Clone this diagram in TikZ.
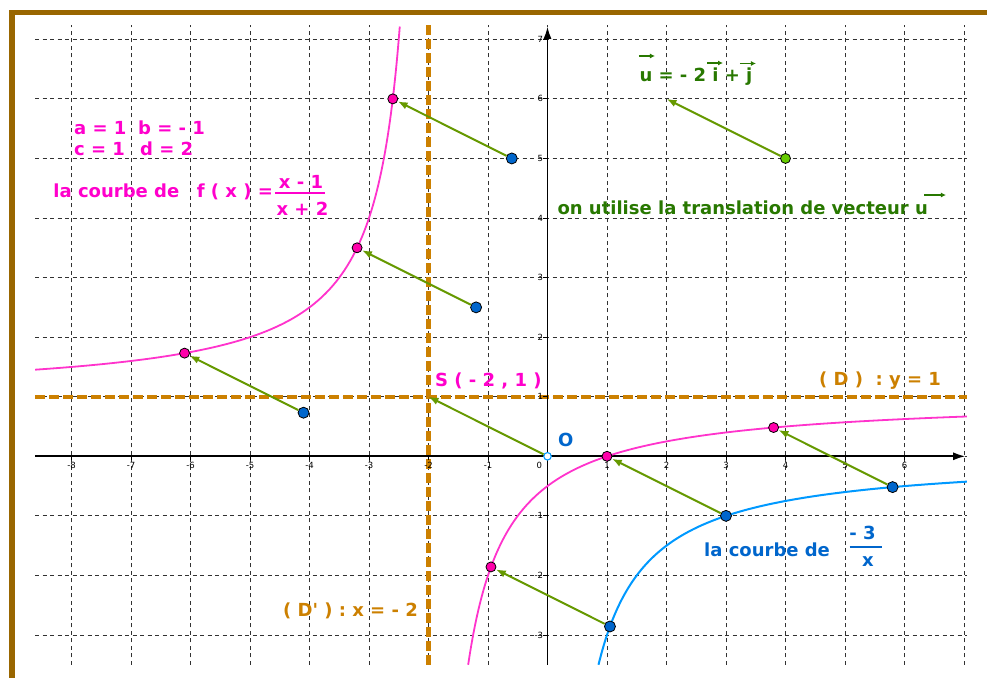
\documentclass[tikz,border=0pt]{standalone}
\usepackage{fontspec}
\setmainfont{DejaVu Sans}
\usetikzlibrary{arrows.meta}
\definecolor{frameC}{RGB}{153,102,0}
\definecolor{brownC}{RGB}{204,128,0}
\definecolor{pinkT}{RGB}{255,0,204}
\definecolor{pinkC}{RGB}{255,51,204}
\definecolor{pinkP}{RGB}{255,0,170}
\definecolor{blueC}{RGB}{0,153,255}
\definecolor{blueT}{RGB}{0,102,204}
\definecolor{blueP}{RGB}{0,102,204}
\definecolor{greenA}{RGB}{102,153,0}
\definecolor{greenT}{RGB}{40,120,0}
\definecolor{greenP}{RGB}{102,204,0}
\definecolor{gridC}{RGB}{50,50,50}
\begin{document}
\begin{tikzpicture}[x=59.5pt,y=59.57pt,
  gridline/.style={gridC, line width=0.9pt, dash pattern=on 4pt off 3.5pt},
  asym/.style={brownC, line width=4.2pt, dash pattern=on 10pt off 4pt},
  vecarrow/.style={greenA, line width=2pt, -{Latex[length=10pt,width=7.5pt]}},
  ovec/.style={greenT, line width=1.3pt, -{Latex[length=5pt,width=5pt]}},
  axisline/.style={black, line width=1.6pt, -{Latex[length=12pt,width=8pt]}},
  txt/.style={font=\fontsize{18}{20}\selectfont\bfseries, inner sep=0pt, anchor=base west},
  ticklbl/.style={font=\fontsize{8.5}{10}\selectfont, text=black, inner sep=0pt},
  dot/.style={circle, draw=black, line width=0.8pt, minimum size=10pt, inner sep=0pt},
]
\useasboundingbox (-9.2017,-3.7217) rectangle (7.3866,7.6599);
\fill[white] (-9.2017,-3.7217) rectangle (7.3866,7.6599);

% frame
\draw[frameC, line width=5.5pt] (-9.0,-3.9) -- (-9.0,7.45) -- (7.5,7.45);

% grid
\foreach \x in {-8,...,7} \draw[gridline] (\x,-3.503) -- (\x,7.24);
\foreach \y in {-3,...,7} \draw[gridline] (-8.61,\y) -- (7.05,\y);

% asymptotes
\draw[asym] (-8.61,1) -- (7.05,1);
\draw[asym] (-2,-3.503) -- (-2,7.24);

% axes
\coordinate (xs) at (-8.61,0);
\coordinate (xe) at (7.02,0);
\coordinate (ys) at (0,-3.503);
\coordinate (ye) at (0,7.21);
\draw[axisline] (xs) -- (xe);
\draw[axisline] (ys) -- (ye);

% ticks and labels
\foreach \x in {-8,...,-1,1,2,...,6} {
  \draw[line width=0.8pt] (\x,0) -- ++(0,-4pt);
  \node[ticklbl] (xl\x) at (\x,-0.155) {\x};
}
\foreach \y in {-3,-2,-1,1,2,...,7} {
  \draw[line width=0.8pt] (0,\y) -- ++(-4pt,0);
  \node[ticklbl, anchor=east] (yl\y) at (-0.07,\y) {\y};
}
\node[ticklbl] (zl) at (-0.138,-0.146) {0};

% curves
\draw[pinkC, line width=1.8pt, samples=300, domain=-8.61:-2.4808] plot (\x,{(\x-1)/(\x+2)});
\draw[pinkC, line width=1.8pt, samples=300, domain=-1.3333:7.05] plot (\x,{(\x-1)/(\x+2)});
\draw[blueC, line width=2pt, samples=300, domain=0.8571:7.05] plot (\x,{-3/\x});

% points
\node[dot, fill=blueP, minimum size=11pt] (b1) at (-0.6,5) {};
\node[dot, fill=blueP, minimum size=11pt] (b2) at (-1.2,2.5) {};
\node[dot, fill=blueP, minimum size=11pt] (b3) at (-4.1,0.7317) {};
\node[dot, fill=blueP, minimum size=11pt] (b4) at (1.05,-2.857) {};
\node[dot, fill=blueP, minimum size=11pt] (b5) at (3,-1) {};
\node[dot, fill=blueP, minimum size=11pt] (b6) at (5.8,-0.5172) {};
\node[dot, fill=pinkP] (p1) at (-2.6,6) {};
\node[dot, fill=pinkP] (p2) at (-3.2,3.5) {};
\node[dot, fill=pinkP] (p3) at (-6.1,1.7317) {};
\node[dot, fill=pinkP] (p4) at (-0.95,-1.857) {};
\node[dot, fill=pinkP] (p5) at (1,0) {};
\node[dot, fill=pinkP] (p6) at (3.8,0.4828) {};
\node[circle, draw=blueC, line width=1.1pt, fill=white, minimum size=7.5pt, inner sep=0pt] (O) at (0,0) {};
\coordinate (S) at (-2,1);
\node[dot, fill=greenP] (g) at (4,5) {};
\coordinate (gt) at (2,6);

% translation arrows
\draw[vecarrow] (b1) -- (p1);
\draw[vecarrow] (b2) -- (p2);
\draw[vecarrow] (b3) -- (p3);
\draw[vecarrow] (b4) -- (p4);
\draw[vecarrow] (b5) -- (p5);
\draw[vecarrow] (b6) -- (p6);
\draw[vecarrow] (O) -- (S);
\draw[vecarrow] (g) -- (gt);

% texts
\node[txt, pinkT] (ab) at (-7.958,5.394) {a = 1};
\node[txt, pinkT] (bb) at (-6.882,5.394) {b = - 1};
\node[txt, pinkT] (cc) at (-7.958,5.042) {c = 1};
\node[txt, pinkT] (dd) at (-6.85,5.042) {d = 2};
\node[txt, pinkT] (lc1) at (-8.306,4.348) {la courbe de};
\node[txt, pinkT] (fx) at (-5.896,4.348) {f ( x ) =};
\node[txt, pinkT, anchor=base] (fn) at (-4.143,4.499) {x - 1};
\draw[pinkT, line width=2pt] (-4.580,4.415) -- (-3.739,4.415);
\node[txt, pinkT, anchor=base] (fd) at (-4.118,4.034) {x + 2};

\node[txt, greenT] (ueq) at (1.543,6.290) {u = - 2 i + j};
\draw[ovec] (1.5378,6.720) -- (1.8067,6.720);
\draw[ovec] (2.681,6.602) -- (2.950,6.602);
\draw[ovec] (3.235,6.594) -- (3.504,6.594);
\node[txt, greenT] (util) at (0.165,4.067) {on utilise la translation de vecteur u};
\draw[ovec] (6.328,4.386) -- (6.697,4.386);

\node[txt, pinkT] (Slab) at (-1.891,1.177) {S ( - 2 , 1 )};
\node[txt, blueT] (Olab) at (0.176,0.161) {O};
\node[txt, brownC] (Dlab) at (4.563,1.185) {( D )\ \ : y = 1};
\node[txt, brownC] (Dplab) at (-4.445,-2.686) {( D\textquotesingle\ ) : x = - 2};
\node[txt, blueT] (lc2) at (2.630,-1.679) {la courbe de};
\node[txt, blueT, anchor=base] (gn) at (5.294,-1.400) {- 3};
\draw[blueT, line width=2pt] (5.079,-1.523) -- (5.622,-1.523);
\node[txt, blueT, anchor=base] (gd) at (5.387,-1.847) {x};
\end{tikzpicture}
\end{document}
